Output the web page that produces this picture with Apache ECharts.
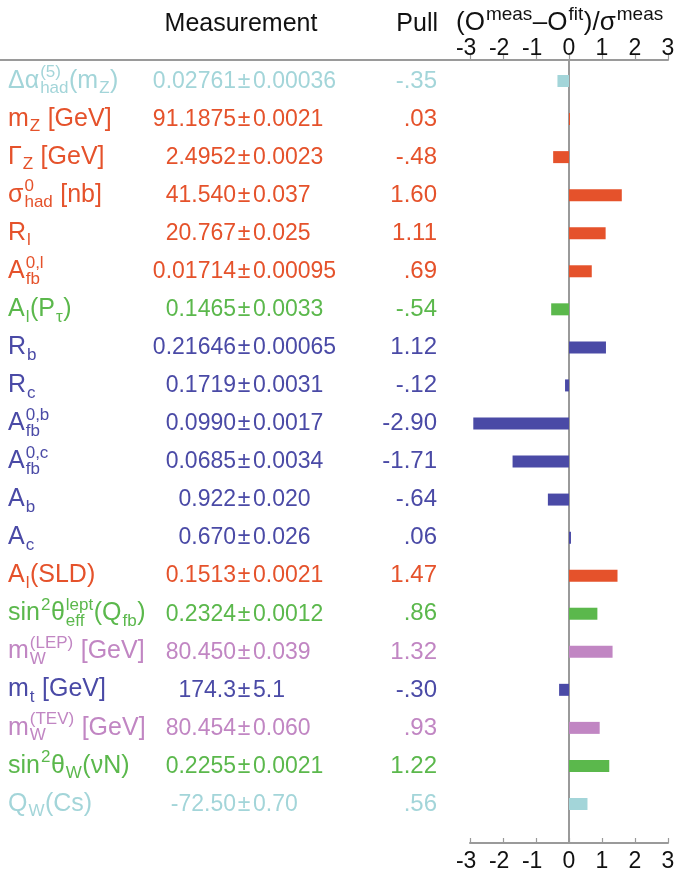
<!DOCTYPE html>
<html><head><meta charset="utf-8">
<script src="https://cdn.jsdelivr.net/npm/echarts@6/dist/echarts.min.js"></script>
<style>html,body{margin:0;padding:0;background:#fff}#c{width:676px;height:879px}</style>
</head><body><div id="c"></div>
<script>
// ---- data ----
const labels = ['Δα^{(5)}_{had}(m_{Z})', 'm_{Z} [GeV]', 'Γ_{Z} [GeV]', 'σ^{0}_{had} [nb]', 'R_{l}', 'A^{0,l}_{fb}', 'A_{l}(P_{τ})', 'R_{b}', 'R_{c}', 'A^{0,b}_{fb}', 'A^{0,c}_{fb}', 'A_{b}', 'A_{c}', 'A_{l}(SLD)', 'sin^{2}θ^{lept}_{eff}(Q_{fb})', 'm^{(LEP)}_{W} [GeV]', 'm_{t} [GeV]', 'm^{(TEV)}_{W} [GeV]', 'sin^{2}θ_{W}(νN)', 'Q_{W}(Cs)'];
const measValues = ['0.02761','91.1875','2.4952','41.540','20.767','0.01714','0.1465','0.21646','0.1719','0.0990','0.0685','0.922','0.670','0.1513','0.2324','80.450','174.3','80.454','0.2255','-72.50'];
const measErrors = ['0.00036','0.0021','0.0023','0.037','0.025','0.00095','0.0033','0.00065','0.0031','0.0017','0.0034','0.020','0.026','0.0021','0.0012','0.039','5.1','0.060','0.0021','0.70'];
const pulls = [-0.35,0.03,-0.48,1.60,1.11,0.69,-0.54,1.12,-0.12,-2.90,-1.71,-0.64,0.06,1.47,0.86,1.32,-0.30,0.93,1.22,0.56];
const groups = ['cyan','orange','orange','orange','orange','orange','green','blue','blue','blue','blue','blue','blue','orange','green','purple','blue','purple','green','cyan'];
const tickMin = -3, tickMax = 3, tickStep = 1;

// ---- styles ----
const palette = {cyan:'#a3d5d9', orange:'#e5522b', green:'#5bb84c', blue:'#4a4aa6', purple:'#c186c3'};
const FONT = '"Liberation Sans", Arial, Helvetica, sans-serif';
const gridTop = 62, rowH = 38.05, gridH = rowH * labels.length;
const topOff = 2, botOff = 20;
const axisGrey = '#9a9a9a';

const chart = echarts.init(document.getElementById('c'), null, {renderer:'canvas'});

function tickFmt(v){ return v < 0 ? '-' + (-v) + '{t|-}' : String(v); }
function xAxisBase(pos, off, inside, margin){
  return {
    type:'value', position:pos, offset:off, min:tickMin, max:tickMax, interval:tickStep,
    splitLine:{show:false},
    axisLine:{show:true, onZero:false, lineStyle:{color:axisGrey, width:2}},
    axisTick:{show:true, inside:inside, length:5, lineStyle:{color:axisGrey, width:1.2}},
    axisLabel:{formatter:tickFmt, color:'#111', fontSize:23, fontFamily:FONT, margin:margin,
      rich:{t:{color:'rgba(0,0,0,0)', fontSize:23, fontFamily:FONT}}}
  };
}

chart.setOption({
  backgroundColor:'#fff',
  animation:false,
  grid:{left:470, right:8, top:gridTop, height:gridH, containLabel:false, outerBoundsMode:'none'},
  xAxis:[xAxisBase('top', topOff, false, 0), xAxisBase('bottom', botOff, true, 7)],
  yAxis:{type:'category', data:labels.map((_, i) => i), inverse:true, show:false},
  series:[{
    type:'bar', xAxisIndex:0, yAxisIndex:0, barWidth:12, silent:true,
    data:pulls.map((v, i) => ({value:v, itemStyle:{color:palette[groups[i]]}}))
  }]
});

// ---- text layout ----
const ctx = document.createElement('canvas').getContext('2d');
function tw(t, f){ ctx.font = f + 'px ' + FONT; return ctx.measureText(t).width; }
function txt(t, x, B, f, fill, align){
  return {type:'text', x:x, y:B - 0.35 * f, silent:true, z:100,
    style:{text:t, fill:fill, font:f + 'px ' + FONT, align:align || 'left', verticalAlign:'middle'}};
}
function richText(str, x, B, fM, fS, fill, raise, drop, els){
  const toks = []; const re = /\^\{([^}]*)\}|_\{([^}]*)\}|([^^_]+)/g; let m;
  while ((m = re.exec(str))) {
    if (m[1] !== undefined) toks.push({k:'sup', t:m[1]});
    else if (m[2] !== undefined) toks.push({k:'sub', t:m[2]});
    else toks.push({k:'n', t:m[3]});
  }
  for (let i = 0; i < toks.length; i++) {
    const tk = toks[i];
    if (tk.k === 'n') { els.push(txt(tk.t, x, B, fM, fill)); x += tw(tk.t, fM); }
    else if (tk.k === 'sup' && toks[i+1] && toks[i+1].k === 'sub') {
      const s = toks[i+1];
      els.push(txt(tk.t, x + 1, B - raise, fS, fill));
      els.push(txt(s.t, x + 1, B + drop, fS, fill));
      x += Math.max(tw(tk.t, fS), tw(s.t, fS)) + 1.5; i++;
    } else {
      els.push(txt(tk.t, x + 1, tk.k === 'sup' ? B - raise : B + drop, fS, fill));
      x += tw(tk.t, fS) + 1.5;
    }
  }
  return x;
}
function pullFmt(v){
  const s = Math.abs(v).toFixed(2);
  const body = Math.abs(v) < 1 ? s.slice(1) : s;
  return (v < 0 ? '-' : '') + body;
}

const els = [];
const x0 = chart.convertToPixel({xAxisIndex:0}, 0);
const xR = chart.convertToPixel({xAxisIndex:0}, tickMax);
const yTopLine = gridTop - topOff;
const yBotLine = gridTop + gridH + botOff;
els.push({type:'line', silent:true, shape:{x1:0, y1:yTopLine, x2:xR, y2:yTopLine}, style:{stroke:axisGrey, lineWidth:2}});
els.push({type:'line', silent:true, shape:{x1:x0, y1:yTopLine, x2:x0, y2:yBotLine}, style:{stroke:axisGrey, lineWidth:2}});

// headers
els.push(txt('Measurement', 241, 33, 25, '#111', 'center'));
els.push(txt('Pull', 438, 33, 25, '#111', 'right'));
richText('(O^{meas}–O^{fit})/σ^{meas}', 456, 32, 26, 19, '#111', 11, 5, els);

labels.forEach((lab, i) => {
  const yc = chart.convertToPixel({yAxisIndex:0}, i);
  const B = yc + 8.5;
  const fill = palette[groups[i]];
  richText(lab, 8, B, 25, 17, fill, 11, 5, els);
  els.push(txt(measValues[i], 236, B, 23, fill, 'right'));
  els.push(txt('±', 244, B, 23, fill, 'center'));
  els.push(txt(measErrors[i], 253, B, 23, fill, 'left'));
  els.push(txt(pullFmt(pulls[i]), 437, B, 24, fill, 'right'));
});

chart.setOption({graphic:{elements:els}});
</script>
</body></html>
